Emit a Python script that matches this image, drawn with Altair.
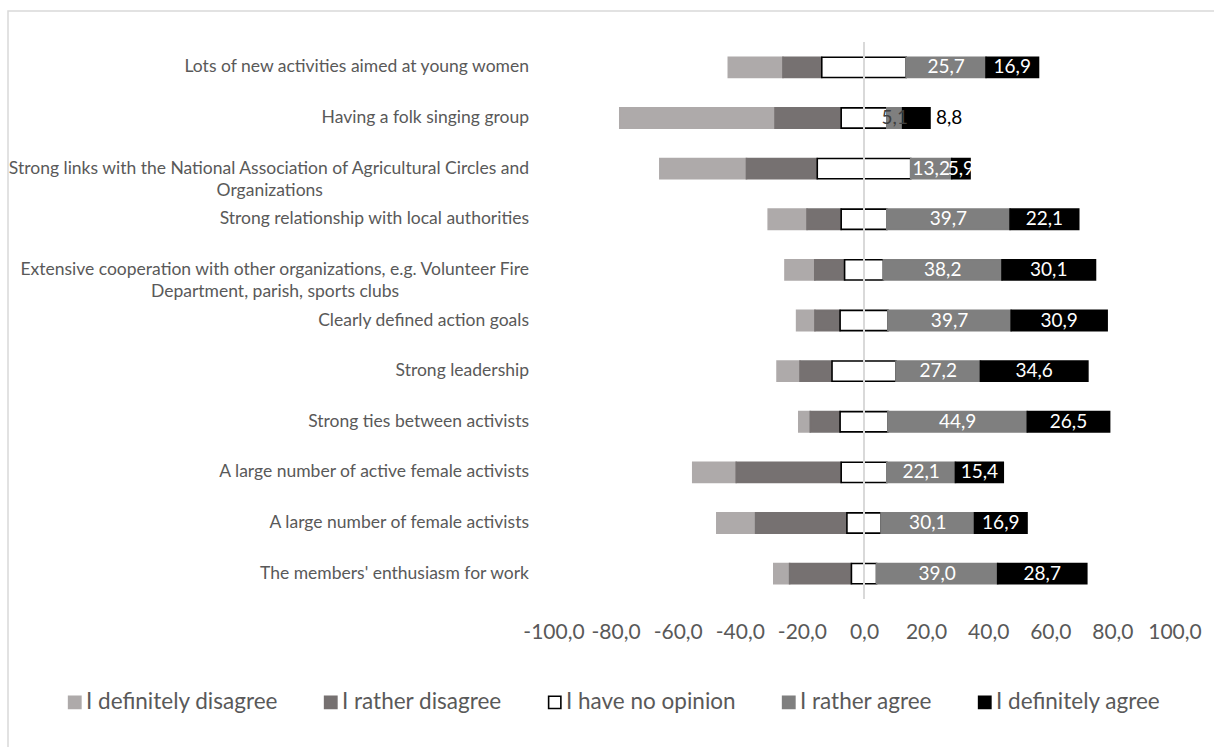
import altair as alt
import pandas as pd

NB = "\u00a0"
ZW = "\u200b"

categories = [
    "Lots of new activities aimed at young women",
    "Having a folk singing group",
    "Strong links with the National Association of Agricultural Circles and\nOrganizations" + NB * 46 + ZW,
    "Strong relationship with local authorities",
    "Extensive cooperation with other organizations, e.g. Volunteer Fire\nDepartment, parish, sports clubs" + NB * 29 + ZW,
    "Clearly defined action goals",
    "Strong leadership",
    "Strong ties between activists",
    "A large number of active female activists",
    "A large number of female activists",
    "The members' enthusiasm for work",
]
definitely_disagree = [17.6, 50.0, 27.9, 12.5, 9.6, 5.9, 7.4, 3.7, 14.0, 12.5, 5.1]
rather_disagree = [12.5, 21.3, 22.8, 11.0, 9.6, 8.1, 10.3, 9.6, 33.8, 29.4, 19.9]
no_opinion = [27.2, 14.7, 30.1, 14.7, 12.5, 15.4, 20.6, 15.4, 14.7, 11.0, 8.1]
rather_agree = [25.7, 5.1, 13.2, 39.7, 38.2, 39.7, 27.2, 44.9, 22.1, 30.1, 39.0]
definitely_agree = [16.9, 8.8, 5.9, 22.1, 30.1, 30.9, 34.6, 26.5, 15.4, 16.9, 28.7]

series_names = ["I definitely disagree", "I rather disagree", "I have no opinion",
                "I rather agree", "I definitely agree"]
fill_colors = ["#AEAAAA", "#767171", "#FFFFFF", "#7F7F7F", "#000000"]
stroke_colors = ["#AEAAAA", "#767171", "#000000", "#7F7F7F", "#000000"]
tick_values = [-100, -80, -60, -40, -20, 0, 20, 40, 60, 80, 100]

FONT = "Lato"
TEXT_GREY = "#595959"


def fmt(v):
    return f"{v:.1f}".replace(".", ",")


seg_rows = []
label_rows = []
outside_rows = []
for i, cat in enumerate(categories):
    dd, rd, no, ra, da = (definitely_disagree[i], rather_disagree[i], no_opinion[i],
                          rather_agree[i], definitely_agree[i])
    h = no / 2
    bounds = [(-(dd + rd + h), -(rd + h)), (-(rd + h), -h), (-h, h), (h, h + ra), (h + ra, h + ra + da)]
    for k, (name, (a, b)) in enumerate(zip(series_names, bounds)):
        seg_rows.append({"category": cat, "series": name, "start": a, "end": b, "order": k})
    small = ra < 8
    label_rows.append({"category": cat, "mid": h + ra / 2, "text": fmt(ra),
                       "color": "#404040" if small else "#FFFFFF"})
    if small:
        outside_rows.append({"category": cat, "pos": h + ra + da, "text": fmt(da)})
    else:
        label_rows.append({"category": cat, "mid": h + ra + da / 2, "text": fmt(da),
                           "color": "#FFFFFF"})

segs = pd.DataFrame(seg_rows)
labels = pd.DataFrame(label_rows)
outside = pd.DataFrame(outside_rows)

y_enc = alt.Y(
    "category:N",
    sort=categories,
    scale=alt.Scale(paddingInner=0.6, paddingOuter=0.3),
    axis=alt.Axis(
        title=None,
        labelExpr="split(datum.label, '\\n')",
        labelFont=FONT,
        labelFontSize=17.5,
        labelColor=TEXT_GREY,
        labelLineHeight=22,
        labelPadding=25,
        labelLimit=800,
        ticks=False,
        tickSize=0,
        domain=False,
        grid=False,
    ),
)

x_scale = alt.Scale(domain=[-100, 100], nice=False, zero=False)

legend_cfg = dict(
    title=None,
    orient="none",
    legendX=-490,
    legendY=649,
    direction="horizontal",
    symbolType="square",
    symbolSize=150,
    symbolStrokeWidth=1.6,
    labelFont=FONT,
    labelFontSize=22.5,
    labelColor=TEXT_GREY,
    labelOffset=0,
    labelLimit=400,
    columnPadding=41,
    padding=0,
)

bars = alt.Chart(segs).mark_bar(strokeWidth=1.6).encode(
    x=alt.X(
        "start:Q",
        scale=x_scale,
        axis=alt.Axis(
            title=None,
            values=tick_values,
            labelExpr="(datum.value < 0 ? '-' : '') + replace(format(abs(datum.value), '.1f'), '.', ',')",
            labelFont=FONT,
            labelFontSize=21,
            labelColor=TEXT_GREY,
            labelPadding=22,
            labelFlush=False,
            labelOverlap=False,
            ticks=False,
            tickSize=0,
            domain=False,
            grid=False,
        ),
    ),
    x2="end:Q",
    y=y_enc,
    fill=alt.Fill(
        "series:N",
        scale=alt.Scale(domain=series_names, range=fill_colors),
        sort=series_names,
        legend=alt.Legend(**legend_cfg),
    ),
    stroke=alt.Stroke(
        "series:N",
        scale=alt.Scale(domain=series_names, range=stroke_colors),
        sort=series_names,
        legend=alt.Legend(**legend_cfg),
    ),
    order=alt.Order("order:Q"),
)

zero_line = alt.Chart(pd.DataFrame({"x": [0]})).mark_rule(color="#D9D9D9", strokeWidth=2).encode(
    x=alt.X("x:Q", scale=x_scale)
)

texts = alt.Chart(labels).mark_text(font=FONT, fontSize=19, align="center", baseline="middle").encode(
    x=alt.X("mid:Q", scale=x_scale),
    y=alt.Y("category:N", sort=categories),
    text="text:N",
    color=alt.Color("color:N", scale=None),
)

outside_texts = alt.Chart(outside).mark_text(
    font=FONT, fontSize=19, align="left", baseline="middle", dx=6, color="#000000"
).encode(
    x=alt.X("pos:Q", scale=x_scale),
    y=alt.Y("category:N", sort=categories),
    text="text:N",
)

frame = alt.Chart(pd.DataFrame({"a": [0]})).mark_rect(
    filled=False, stroke="#D9D9D9", strokeWidth=1.5
).encode(
    x=alt.value(-545.5), x2=alt.value(720), y=alt.value(-31), y2=alt.value(800)
)

chart = alt.layer(frame, bars, zero_line, texts, outside_texts).properties(
    width=621,
    height=557,
    autosize=alt.AutoSizeParams(type="none"),
    padding={"left": 553.5, "top": 42, "right": 39.5, "bottom": 148},
    background="#FFFFFF",
).configure_view(stroke=None)

chart.save("out.html", embed_options={"renderer": "svg", "actions": False})
